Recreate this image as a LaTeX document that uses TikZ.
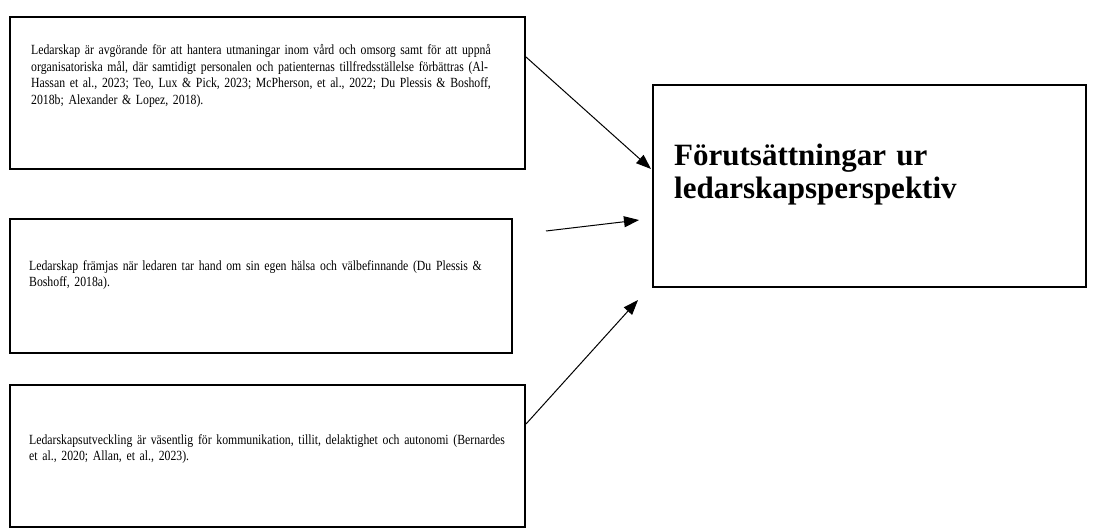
\documentclass[tikz,border=0pt]{standalone}
\usepackage{fontspec}
\setmainfont{Liberation Serif}
\newfontfamily\notefont[FakeStretch=0.84]{Liberation Serif}
\usetikzlibrary{arrows.meta}

\begin{document}
\begin{tikzpicture}[x=1pt, y=-1pt,
    frame/.style={draw, line width=2pt, anchor=north west, inner sep=0pt},
    note/.style={anchor=base west, inner sep=0pt, text width=495pt, align=left,
      font=\notefont\fontsize{14}{16.5}\selectfont},
    title/.style={anchor=base west, inner sep=0pt, text width=400pt, align=left,
      font=\fontsize{31}{33}\selectfont\bfseries},
    feed/.style={line width=1pt, -{Triangle[length=15pt, width=11pt]}}]
     \useasboundingbox (0,0) rectangle (1099,529);

     \node[frame, minimum width=515pt, minimum height=152pt] (lead1) at (9,16) {};
     \node[note] (txt1) at (31,55) {Ledarskap är avgörande för att hantera utmaningar inom vård och omsorg samt för att uppnå\\
       organisatoriska mål, där samtidigt personalen och patienternas tillfredsställelse förbättras (Al-\\
       Hassan et al., 2023; Teo, Lux \& Pick, 2023; McPherson, et al., 2022; Du Plessis \& Boshoff,\\
       2018b; Alexander \& Lopez, 2018).};

     \node[frame, minimum width=502pt, minimum height=134pt] (lead2) at (9,218) {};
     \node[note] (txt2) at (29,270) {Ledarskap främjas när ledaren tar hand om sin egen hälsa och välbefinnande (Du Plessis \&\\
       Boshoff, 2018a).};

     \node[frame, minimum width=515pt, minimum height=142pt] (lead3) at (9,384) {};
     \node[note] (txt3) at (29,444) {Ledarskapsutveckling är väsentlig för kommunikation, tillit, delaktighet och autonomi (Bernardes\\
       et al., 2020; Allan, et al., 2023).};

     \node[frame, minimum width=433pt, minimum height=202pt] (goal) at (652,84) {};
     \node[title] (head) at (674,166) {Förutsättningar ur\\ledarskapsperspektiv};

     \coordinate (from1) at ([yshift=-41pt]lead1.north east);
     \coordinate (from2) at (546,231);
     \coordinate (from3) at ([yshift=-40pt]lead3.north east);
     \coordinate (to1) at ([xshift=-1pt, yshift=17pt]goal.west);
     \coordinate (to2) at ([xshift=-13pt, yshift=-34pt]goal.west);
     \coordinate (to3) at ([xshift=-14pt, yshift=-12pt]goal.south west);

     \draw[feed] (from1) -- (to1);
     \draw[feed] (from2) -- (to2);
     \draw[feed] (from3) -- (to3);
   \end{tikzpicture}
\end{document}
